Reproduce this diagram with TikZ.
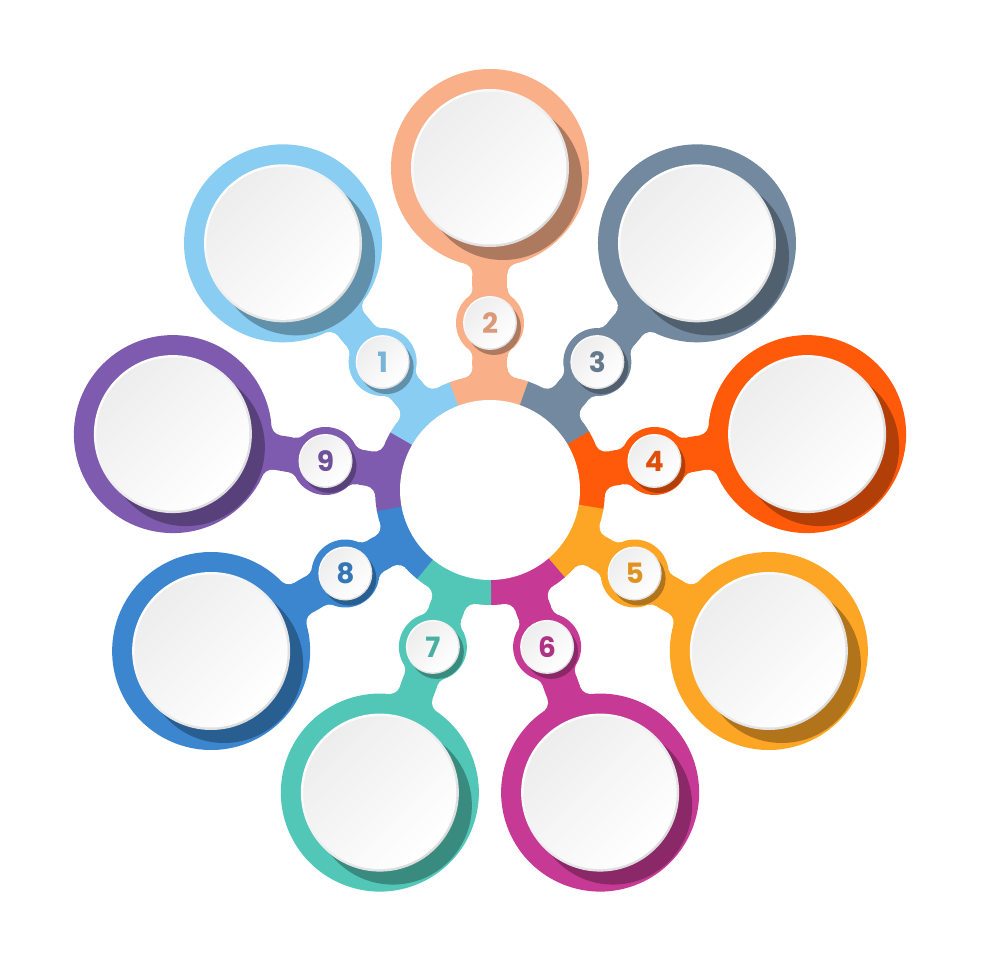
\documentclass[tikz,border=0pt]{standalone}
\usepackage{fontspec}
\newfontfamily\numfont{Poppins}
\definecolor{c1}{HTML}{89CDF3}
\definecolor{c2}{HTML}{F9AF87}
\definecolor{c3}{HTML}{73899F}
\definecolor{c4}{HTML}{FF5A0A}
\definecolor{c5}{HTML}{FDA626}
\definecolor{c6}{HTML}{C63A95}
\definecolor{c7}{HTML}{52C7B7}
\definecolor{c8}{HTML}{3B86CF}
\definecolor{c9}{HTML}{7E5BAE}
\tikzset{
  gapdisk/.style={fill=white},
  numtext/.style={font=\numfont\bfseries\fontsize{28}{28}\selectfont, inner sep=0pt}
}
\begin{document}
\begin{tikzpicture}[x=1pt,y=1pt]
\useasboundingbox (-490,-490) rectangle (490,490);
\fill[white] (-490,-490) rectangle (490,490);
% coloured body of each petal
\foreach \a/\c in {130/c1,90/c2,50/c3,10/c4,-30/c5,-70/c6,-110/c7,-150/c8,170/c9}{
  \begin{scope}[rotate=\a]
    \fill[\c] (0,0) -- (-20:115) arc[start angle=-20,end angle=20.6,radius=115] -- cycle;
    \fill[\c] (0,-17.5) rectangle (322,17.5);
    \fill[\c] (167,0) circle (34);
    \fill[\c] (322,0) circle (99);
    \fill[\c] (0,0) -- (122.7,28.5) -- (122.7,-28.5) -- cycle;
    \fill[\c] (167,0) -- (132.18,28.5) -- (132.18,-28.5) -- cycle;
    \fill[\c] (167,0) -- (201.82,28.5) -- (201.82,-28.5) -- cycle;
    \fill[\c] (322,0) -- (215.76,28.5) -- (215.76,-28.5) -- cycle;
  \end{scope}
}
% concave fillets
\foreach \a in {130,90,50,10,-30,-70,-110,-150,170}{
  \begin{scope}[rotate=\a]
    \foreach \x in {122.7,132.18,201.82,215.76}{
      \fill[gapdisk] (\x,28.5) circle (11);
      \fill[gapdisk] (\x,-28.5) circle (11);
    }
  \end{scope}
}
% centre
\fill[white] (0,0) circle (90);
% discs, shadows and numbers
\foreach \a/\c/\n in {130/c1/1,90/c2/2,50/c3/3,10/c4/4,-30/c5/5,-70/c6/6,-110/c7/7,-150/c8/8,170/c9/9}{
  \fill[shift={(\a:322)}, \c!70!black] (13,-13) circle (79);
  \shade[shift={(\a:322)}, top color=white, bottom color=black!14, shading angle=45] (0,0) circle (79);
  \shade[shift={(\a:322)}, top color=black!7, bottom color=white, shading angle=45] (0,0) circle (76.5);
  \fill[shift={(\a:167)}, \c!70!black] (4,-5) circle (27);
  \shade[shift={(\a:167)}, top color=white, bottom color=black!14, shading angle=45] (0,0) circle (27);
  \shade[shift={(\a:167)}, top color=black!7, bottom color=white, shading angle=45] (0,0) circle (25.5);
  \node[numtext, text=\c!88!black] (n\n) at (\a:167) {\n};
}
\end{tikzpicture}
\end{document}
